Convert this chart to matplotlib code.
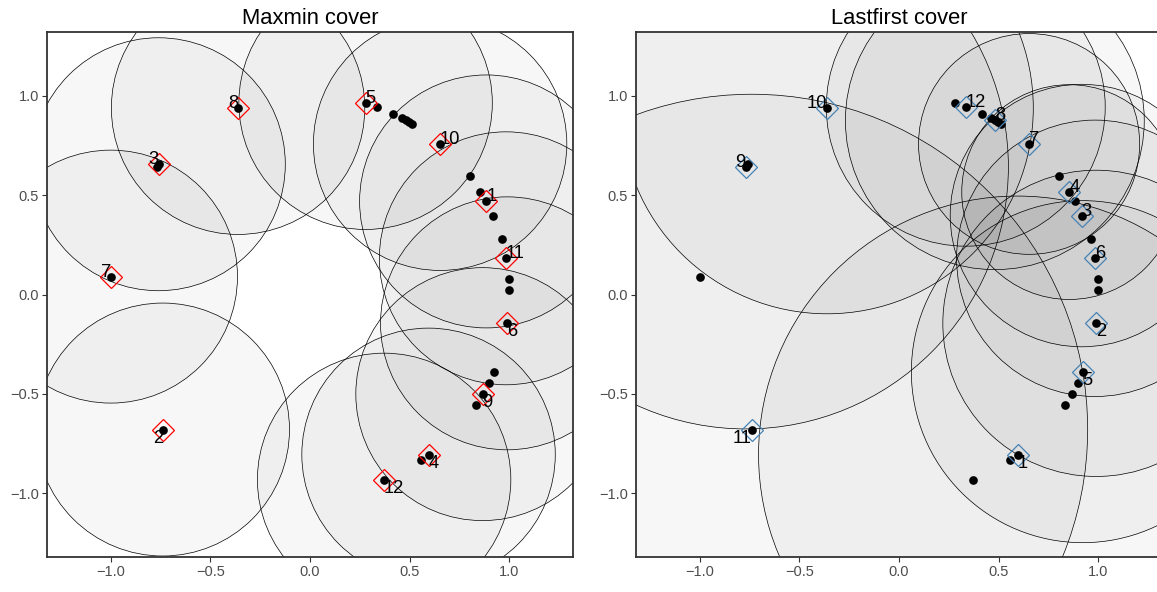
import numpy as np
import matplotlib
matplotlib.use("Agg")
import matplotlib.pyplot as plt
from matplotlib.patches import Circle

plt.rcParams["font.family"] = ["Liberation Sans", "DejaVu Sans"]

# ── data: noisy circle sample ────────────────────────────────────────────────
pts_x = [-0.361, -0.769, -0.760, -1.000, 0.279, 0.335, 0.417, 0.462, 0.481, 0.496,
         0.514, 0.653, 0.803, 0.855, 0.885, 0.917, 0.962, 0.984, 0.999, 1.001,
         0.990, 0.922, 0.896, 0.866, 0.833, 0.595, 0.556, 0.372, -0.739]
pts_y = [0.938, 0.642, 0.655, 0.090, 0.963, 0.943, 0.909, 0.889, 0.875, 0.867,
         0.856, 0.757, 0.596, 0.515, 0.468, 0.397, 0.279, 0.182, 0.079, 0.025,
         -0.145, -0.388, -0.447, -0.501, -0.555, -0.805, -0.832, -0.931, -0.679]

# landmarks (1-based point index, in selection order) and ball radii
maxmin_idx = [15, 29, 3, 26, 5, 21, 4, 1, 24, 12, 18, 28]
maxmin_rad = [0.636] * 12
lastfirst_idx = [26, 21, 16, 14, 22, 18, 12, 9, 2, 1, 29, 6]
lastfirst_rad = [1.30, 0.77, 0.66, 0.54, 0.86, 0.695, 0.555, 0.75, 1.318, 1.035, 1.686, 0.70]

tick_vals = [-1.0, -0.5, 0.0, 0.5, 1.0]
tick_labels = ["\u22121.0", "\u22120.5", "0.0", "0.5", "1.0"]

# ── layout ───────────────────────────────────────────────────────────────────
W, H = 1157, 592
fig = plt.figure(figsize=(W / 100, H / 100), dpi=100)
ax1 = fig.add_axes([47 / W, (H - 557) / H, 526 / W, 525 / H])
ax2 = fig.add_axes([636 / W, (H - 557) / H, 526 / W, 525 / H])

px = np.array(pts_x)
py = np.array(pts_y)

panels = [(ax1, maxmin_idx, maxmin_rad, "red", "Maxmin cover"),
          (ax2, lastfirst_idx, lastfirst_rad, "steelblue", "Lastfirst cover")]

for ax, idx, rad, col, title in panels:
    idx = np.array(idx) - 1
    lx, ly = px[idx], py[idx]
    for cx, cy, r in zip(lx, ly, rad):
        ax.add_patch(Circle((cx, cy), r, facecolor=(0, 0, 0, 0.03),
                            edgecolor="black", lw=0.5, zorder=1))
    ax.scatter(px, py, s=39, color="black", zorder=3, linewidths=0)
    ax.plot(lx, ly, ls="none", marker="D", ms=11, mfc="none", mec=col, mew=0.9, zorder=4)
    for k in range(len(idx)):
        ax.text(lx[k], ly[k], str(k + 1), fontsize=13.2,
                ha="left" if lx[k] > 0 else "right",
                va="baseline" if ly[k] > 0 else "top", zorder=5)
    ax.set_xlim(-1.32, 1.32)
    ax.set_ylim(-1.32, 1.32)
    ax.set_xticks(tick_vals, tick_labels)
    ax.set_yticks(tick_vals, tick_labels)
    ax.tick_params(length=3.3, width=0.8, color="#333333", labelcolor="#4D4D4D",
                   labelsize=10.5, pad=2.6)
    for s in ax.spines.values():
        s.set_color("#333333")
        s.set_linewidth(1.3)
    ax.set_title(title, fontsize=15.8, pad=6)

fig.savefig("out.png", dpi=100)
